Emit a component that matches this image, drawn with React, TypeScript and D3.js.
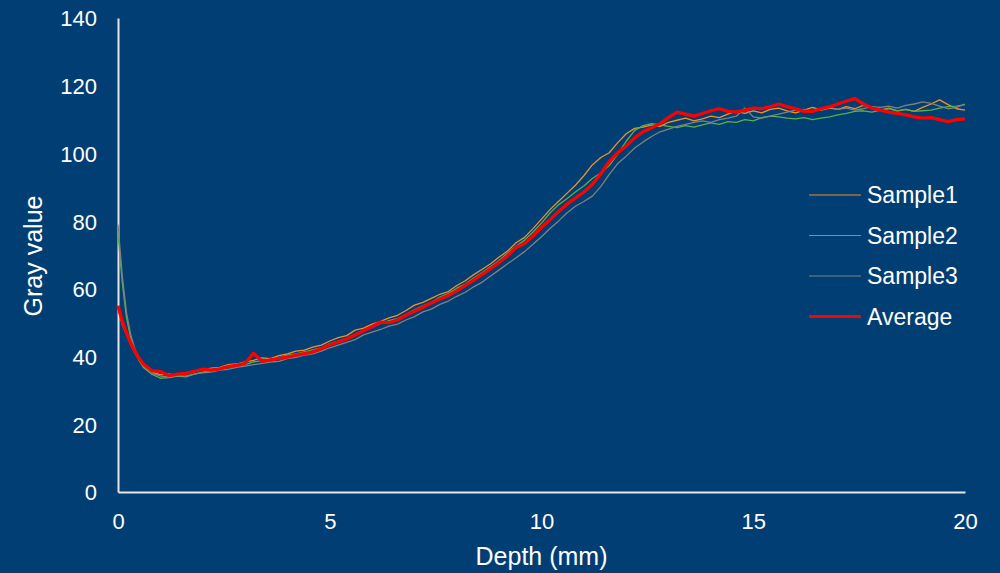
import React, { useEffect, useRef } from 'react';
import * as d3 from 'd3';

// depth grid (mm), finer at the start where the curves drop fast
const depth = [
  0, 0.1, 0.2, 0.3, 0.4, 0.5, 0.6, 0.8, 1.0, 1.2, 1.4, 1.6, 1.8, 2.0, 2.2, 2.4, 2.6, 2.8, 3.0, 3.2,
  3.4, 3.6, 3.8, 4.0, 4.2, 4.4, 4.6, 4.8, 5.0, 5.2, 5.4, 5.6, 5.8, 6.0, 6.2, 6.4, 6.6, 6.8, 7.0, 7.2,
  7.4, 7.6, 7.8, 8.0, 8.2, 8.4, 8.6, 8.8, 9.0, 9.2, 9.4, 9.6, 9.8, 10.0, 10.2, 10.4, 10.6, 10.8, 11.0, 11.2,
  11.4, 11.6, 11.8, 12.0, 12.2, 12.4, 12.6, 12.8, 13.0, 13.2, 13.4, 13.6, 13.8, 14.0, 14.2, 14.4, 14.6, 14.8, 15.0, 15.2,
  15.4, 15.6, 15.8, 16.0, 16.2, 16.4, 16.6, 16.8, 17.0, 17.2, 17.4, 17.6, 17.8, 18.0, 18.2, 18.4, 18.6, 18.8, 19.0, 19.2,
  19.4, 19.6, 19.8, 20.0,
];

const sample1 = [
  54, 49.5, 46.5, 43.5, 41, 39, 37.4, 35.5, 34.6, 34.9, 34.2, 35.2, 35.8, 36.0, 36.6, 36.8, 37.6, 37.8, 38.4, 38.9,
  39.6, 39.4, 40.3, 40.8, 41.6, 41.9, 42.8, 43.4, 44.6, 45.6, 46.2, 47.8, 48.4, 49.6, 50.4, 51.4, 52.2, 53.6, 55.2, 56.0,
  57.2, 58.4, 59.2, 61.0, 62.4, 64.2, 65.8, 67.4, 69.4, 71.2, 73.6, 75.2, 77.8, 80.6, 83.4, 85.8, 88.2, 90.6, 93.4, 96.6,
  98.8, 100.2, 103.2, 105.8, 107.4, 107.8, 108.4, 108.0, 109.2, 109.8, 110.4, 109.6, 110.2, 111.0, 110.6, 111.6, 112.4, 111.8, 112.6, 112.0,
  113.0, 113.4, 112.6, 112.0, 112.8, 113.6, 112.8, 113.4, 113.0, 113.8, 113.2, 114.2, 113.6, 112.8, 113.4, 112.6, 113.0, 112.4, 113.6, 114.6,
  115.8, 114.4, 113.2, 112.8,
];

const sample2 = [
  76, 62, 51.5, 45.5, 41.5, 38.8, 36.8, 34.8, 33.6, 33.8, 34.2, 34.0, 34.8, 35.4, 35.8, 36.2, 36.8, 37.2, 37.6, 38.4,
  38.8, 39.2, 39.6, 40.4, 40.8, 41.4, 42.0, 42.6, 43.8, 44.6, 45.4, 46.6, 47.8, 48.6, 49.8, 50.6, 51.2, 52.4, 53.8, 55.0,
  56.0, 57.6, 58.6, 60.2, 61.4, 63.2, 64.8, 66.6, 68.4, 70.6, 72.6, 74.4, 76.8, 79.4, 82.4, 84.8, 86.6, 88.6, 90.4, 92.6,
  94.2, 96.4, 99.8, 103.6, 106.8, 108.2, 108.8, 108.4, 108.0, 107.6, 108.2, 107.8, 108.4, 109.0, 108.6, 109.4, 109.2, 110.0, 109.6, 110.6,
  111.0, 110.8, 110.4, 110.2, 110.6, 110.0, 110.4, 110.8, 111.4, 111.8, 112.4, 112.6, 112.2, 112.8, 113.2, 112.6, 113.0, 112.4, 112.6, 112.8,
  113.4, 113.8, 114.0, 114.4,
];

const sample3 = [
  79, 64, 53, 46.5, 42.2, 39.4, 37.2, 35.2, 34.2, 34.0, 34.4, 34.2, 34.8, 35.2, 35.4, 36.0, 36.2, 36.8, 37.2, 37.6,
  38.0, 38.4, 38.6, 39.4, 39.8, 40.4, 40.8, 41.6, 42.6, 43.4, 44.2, 45.0, 46.4, 47.2, 48.0, 49.0, 49.6, 50.8, 51.8, 53.2,
  54.0, 55.4, 56.4, 57.8, 59.0, 60.6, 62.0, 63.8, 65.6, 67.4, 69.2, 71.0, 73.2, 75.4, 77.8, 80.0, 82.4, 84.4, 85.8, 87.4,
  90.2, 93.8, 97.0, 99.2, 101.6, 103.4, 105.0, 106.4, 107.2, 108.0, 108.6, 109.2, 109.6, 109.2, 110.0, 110.4, 111.0, 113.4, 110.8, 110.4,
  111.0, 111.6, 112.2, 112.8, 113.0, 112.4, 113.2, 113.6, 113.0, 113.4, 112.8, 113.2, 113.8, 113.6, 114.0, 113.4, 114.2, 114.6, 115.2, 114.8,
  114.0, 113.2, 113.6, 114.6,
];

const average = [
  55, 50.5, 47, 44, 41.5, 39.5, 37.8, 35.8, 35.6, 34.4, 34.8, 35.0, 35.6, 36.3, 36.0, 36.4, 37.0, 37.4, 38.0, 41.0,
  38.6, 39.0, 39.4, 39.8, 40.4, 40.9, 41.4, 42.3, 43.5, 44.3, 45.2, 46.4, 47.6, 48.8, 50.2, 50.0, 50.8, 52.2, 53.4, 54.6,
  55.8, 57.0, 58.0, 59.4, 61.0, 62.6, 64.3, 66.0, 67.8, 69.8, 72.2, 73.4, 75.6, 78.2, 80.4, 82.8, 85.0, 86.8, 88.6, 90.8,
  94.0, 97.6, 100.2, 102.2, 104.6, 106.4, 107.6, 108.8, 110.6, 112.2, 111.6, 111.0, 111.8, 112.6, 113.2, 112.4, 112.2, 112.8, 113.4, 113.2,
  113.8, 114.6, 113.8, 113.2, 112.4, 112.4, 113.2, 113.8, 114.6, 115.4, 116.2, 114.6, 113.4, 112.8, 112.2, 111.8, 111.4, 110.8, 110.4, 110.6,
  110.0, 109.4, 110.0, 110.2,
];

const seriesNames = ['Sample1', 'Sample2', 'Sample3', 'Average'];
const seriesValues = [sample1, sample2, sample3, average];
const seriesColors = ['#F0902A', '#5BAE48', '#808080', '#FF0000'];
const seriesWidths = [1.3, 1.3, 1.3, 3.3];

const xTicks = [0, 5, 10, 15, 20];
const yTicks = [0, 20, 40, 60, 80, 100, 120, 140];

const GrayChart = () => {
  const chart = useRef(null);
  const width = 1000;
  const height = 573;
  const margin = { top: 18, right: 35, bottom: 81, left: 118 };
  const font = '"Liberation Sans", Arial, sans-serif';

  const x = d3.scaleLinear()
    .domain([0, 20])
    .range([margin.left, width - margin.right]);

  const y = d3.scaleLinear()
    .domain([0, 140])
    .range([height - margin.bottom, margin.top]);

  const draw = () => {
    const svg = d3.select(chart.current);
    svg.selectAll('*').remove();

    svg.append('rect')
      .attr('width', width)
      .attr('height', height)
      .attr('fill', '#013E73');

    svg.append('g')
      .attr('transform', `translate(0,${height - margin.bottom})`)
      .call(d3.axisBottom(x).tickValues(xTicks).tickSize(0).tickPadding(21))
      .call(g => g.select('.domain').attr('stroke', '#E6E6E6').attr('stroke-width', 2))
      .call(g => g.selectAll('text')
        .attr('fill', '#FFFFFF')
        .style('font-family', font)
        .style('font-size', '22px'));

    svg.append('g')
      .attr('transform', `translate(${margin.left},0)`)
      .call(d3.axisLeft(y).tickValues(yTicks).tickSize(0).tickPadding(21))
      .call(g => g.select('.domain').attr('stroke', '#E6E6E6').attr('stroke-width', 2))
      .call(g => g.selectAll('text')
        .attr('fill', '#FFFFFF')
        .attr('dy', '0.36em')
        .style('font-family', font)
        .style('font-size', '22px'));

    const line = d3.line()
      .x((d, i) => x(depth[i]))
      .y(d => y(d));

    svg.append('g')
      .attr('fill', 'none')
      .attr('stroke-linejoin', 'round')
      .selectAll('path')
      .data(seriesValues)
      .join('path')
      .attr('d', d => line(d))
      .attr('stroke', (d, i) => seriesColors[i])
      .attr('stroke-width', (d, i) => seriesWidths[i]);

    // legend
    const legend = svg.append('g')
      .selectAll('g')
      .data(seriesNames)
      .join('g')
      .attr('transform', (d, i) => `translate(809,${195 + i * 40.5})`);

    legend.append('line')
      .attr('x1', 0)
      .attr('x2', 52)
      .attr('stroke', (d, i) => seriesColors[i])
      .attr('stroke-width', (d, i) => (i === 3 ? 3 : 1));

    legend.append('text')
      .attr('x', 58)
      .attr('dy', '0.36em')
      .attr('fill', '#FFFFFF')
      .style('font-family', font)
      .style('font-size', '23px')
      .text(d => d);

    svg.append('text')
      .attr('x', (margin.left + width - margin.right) / 2)
      .attr('y', 565)
      .attr('text-anchor', 'middle')
      .attr('fill', '#FFFFFF')
      .style('font-family', font)
      .style('font-size', '25px')
      .text('Depth (mm)');

    svg.append('text')
      .attr('transform', 'translate(42,256) rotate(-90)')
      .attr('text-anchor', 'middle')
      .attr('fill', '#FFFFFF')
      .style('font-family', font)
      .style('font-size', '25px')
      .text('Gray value');
  };

  useEffect(() => {
    draw();
  }, []);

  return (
    <svg
      ref={chart}
      width={width}
      height={height}
      style={{ position: 'absolute', left: 0, top: 0, display: 'block' }}
    />
  );
};

export default function App() {
  return <GrayChart />;
}
